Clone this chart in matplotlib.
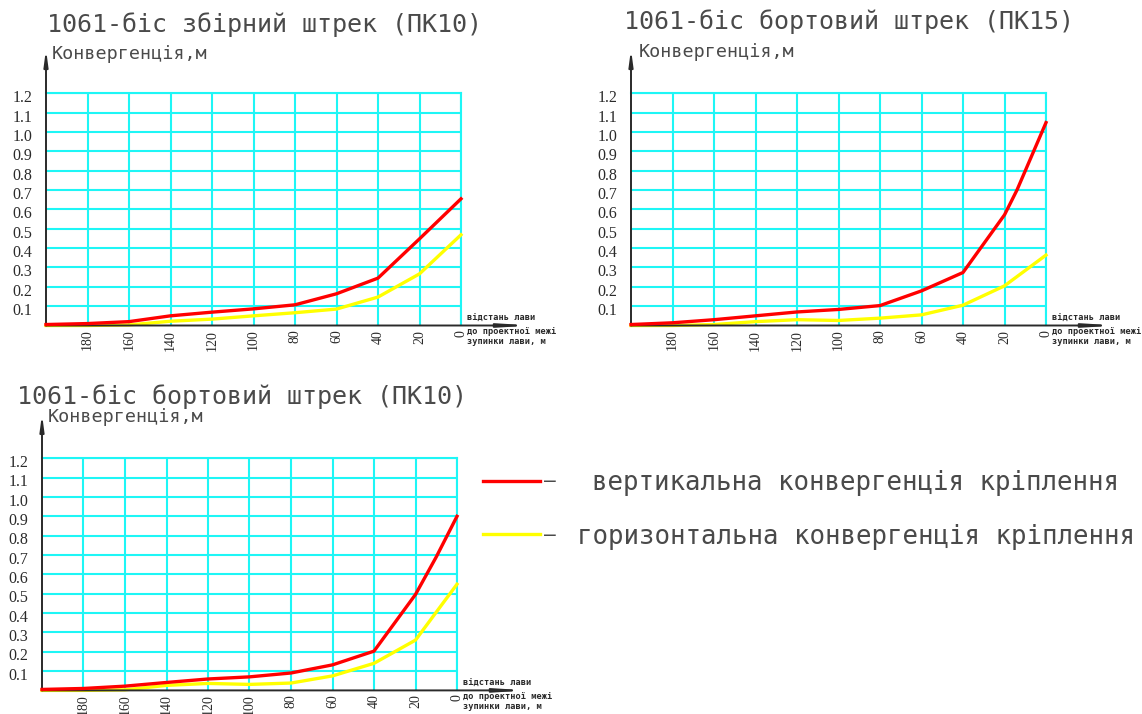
import matplotlib
matplotlib.use("Agg")
import matplotlib.pyplot as plt
from matplotlib.lines import Line2D
from matplotlib.transforms import ScaledTranslation

# distance from the face to the design stop line, m
dist = [200, 180, 160, 140, 120, 100, 80, 60, 40, 20, 0]
x_ticks = [180, 160, 140, 120, 100, 80, 60, 40, 20, 0]
y_ticks = [0.1, 0.2, 0.3, 0.4, 0.5, 0.6, 0.7, 0.8, 0.9, 1.0, 1.1, 1.2]

# 1061-біс збірний штрек (ПК10)
zb10_vert = [0.005, 0.01, 0.02, 0.05, 0.069, 0.086, 0.107, 0.164, 0.245, 0.448, 0.655]
zb10_horiz = [0.0, 0.0, 0.003, 0.022, 0.033, 0.05, 0.066, 0.085, 0.147, 0.267, 0.469]

# 1061-біс бортовий штрек (ПК15)
bt15_dist_vert = [200, 180, 160, 140, 120, 100, 80, 60, 40, 20, 14, 0]
bt15_vert = [0.005, 0.014, 0.03, 0.05, 0.07, 0.083, 0.103, 0.179, 0.274, 0.572, 0.70, 1.049]
bt15_horiz = [0.0, 0.0, 0.005, 0.02, 0.03, 0.026, 0.038, 0.055, 0.105, 0.205, 0.364]

# 1061-біс бортовий штрек (ПК10)
bt10_dist_vert = [200, 180, 160, 140, 120, 100, 80, 60, 40, 20, 10, 0]
bt10_vert = [0.005, 0.01, 0.022, 0.041, 0.059, 0.07, 0.09, 0.132, 0.203, 0.496, 0.69, 0.90]
bt10_horiz = [0.0, 0.0, 0.003, 0.026, 0.036, 0.031, 0.038, 0.075, 0.14, 0.26, 0.549]

W, H = 1142, 714
CYAN = "#1ef6f6"
INK = "#2a2a2a"
TXT = "#4a4a4a"
MONO = "DejaVu Sans Mono"

fig = plt.figure(figsize=(W / 100, H / 100), dpi=100)
fig.patch.set_facecolor("white")


def px_axes(left, top, right, bottom):
    return fig.add_axes([left / W, 1 - bottom / H, (right - left) / W, (bottom - top) / H])


def draw_chart(ax, title, xv, yv, yh, title_pos, ylab_pos):
    ax.set_xlim(200, 0)
    ax.set_ylim(0, 1.2)
    ax.set_xticks(x_ticks)
    ax.set_yticks(y_ticks)
    ax.set_xticklabels([str(t) for t in x_ticks], rotation=90, fontsize=10,
                       family="Liberation Serif", color=INK)
    ax.set_yticklabels([f"{t:.1f}" for t in y_ticks], fontsize=11.5,
                       family="Liberation Serif", color=INK)
    ax.tick_params(length=0)
    ax.tick_params(axis="x", pad=3)
    ax.tick_params(axis="y", pad=10)
    shift = ScaledTranslation(0, -2 / 72, fig.dpi_scale_trans)
    for lab in ax.get_yticklabels():
        lab.set_transform(lab.get_transform() + shift)

    ax.grid(True, color=CYAN, lw=1.5)
    ax.set_axisbelow(True)
    for side in ["top", "right"]:
        ax.spines[side].set_color(CYAN)
        ax.spines[side].set_linewidth(1.5)
    for side in ["left", "bottom"]:
        ax.spines[side].set_visible(False)

    ax.plot(dist, yh, color="#ffff00", lw=2.4, clip_on=False, zorder=3,
            solid_joinstyle="round")
    ax.plot(xv, yv, color="#ff0000", lw=2.4, clip_on=False, zorder=4,
            solid_joinstyle="round")

    # axes with arrows
    ax.annotate("", xy=(0, 1.19), xytext=(0, 0), xycoords="axes fraction",
                arrowprops=dict(arrowstyle="-|>,head_length=0.9,head_width=0.12",
                                lw=1.4, color=INK, shrinkA=0, shrinkB=0))
    ax.annotate("", xy=(1.17, 0), xytext=(0, 0), xycoords="axes fraction",
                arrowprops=dict(arrowstyle="-|>,head_length=1.6,head_width=0.1",
                                lw=1.4, color=INK, shrinkA=0, shrinkB=0))

    ax.text(title_pos[0], title_pos[1], title, transform=ax.transAxes,
            family=MONO, fontsize=18, color=TXT, va="center", ha="left")
    ax.text(ylab_pos[0], ylab_pos[1], "Конвергенція,м", transform=ax.transAxes,
            family=MONO, fontsize=13.2, color=TXT, va="center", ha="left")

    small = dict(transform=ax.transAxes, family=MONO, fontsize=6.2,
                 fontweight="bold", color=INK, ha="left", va="center")
    ax.text(1.015, 0.03, "відстань лави", **small)
    ax.text(1.015, -0.028, "до проектної межі", **small)
    ax.text(1.015, -0.071, "зупинки лави, м", **small)


ax1 = px_axes(46, 93.4, 461, 325.5)
draw_chart(ax1, "1061-біс збірний штрек (ПК10)", dist, zb10_vert, zb10_horiz,
           (0.002, 1.295), (0.0145, 1.17))

ax2 = px_axes(631, 93.4, 1046, 325.5)
draw_chart(ax2, "1061-біс бортовий штрек (ПК15)", bt15_dist_vert, bt15_vert, bt15_horiz,
           (-0.017, 1.309), (0.019, 1.179))

ax3 = px_axes(42, 458.3, 457, 690.4)
draw_chart(ax3, "1061-біс бортовий штрек (ПК10)", bt10_dist_vert, bt10_vert, bt10_horiz,
           (-0.061, 1.265), (0.0137, 1.177))

# legend
legend_rows = [
    ("#ff0000", 481, 592, "вертикальна конвергенція кріплення"),
    ("#ffff00", 534, 577, "горизонтальна конвергенція кріплення"),
]
for color, y, tx, label in legend_rows:
    fig.add_artist(Line2D([483 / W, 540 / W], [1 - y / H, 1 - y / H], color=color, lw=2.4,
                          transform=fig.transFigure))
    fig.text(544 / W, 1 - (y + 1) / H, "–", family=MONO, fontsize=14, color=TXT,
             va="center", ha="left")
    fig.text(tx / W, 1 - (y + 2.5) / H, label, family=MONO, fontsize=18.5, color=TXT,
             va="center", ha="left")

fig.savefig("out.png", dpi=100, facecolor="white")
